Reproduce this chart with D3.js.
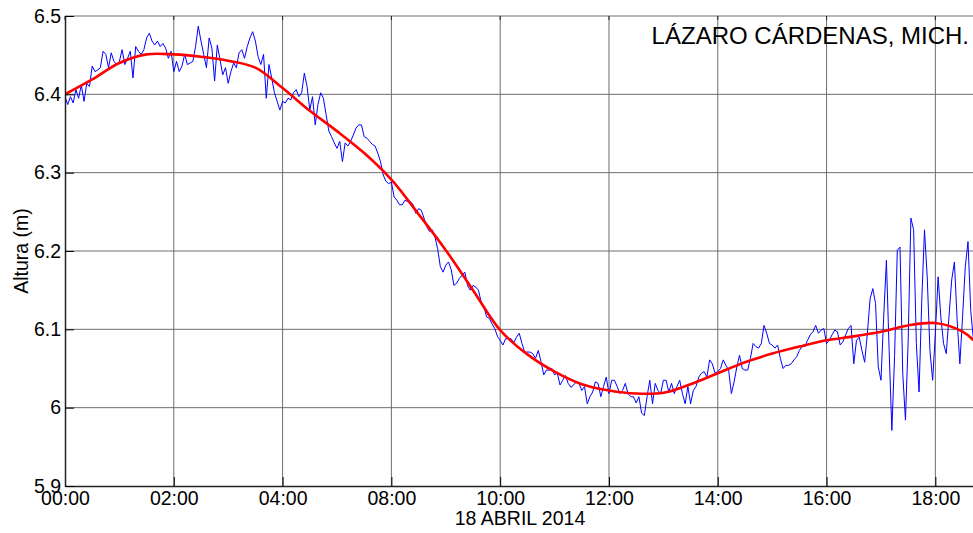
<!DOCTYPE html>
<html>
<head>
<meta charset="utf-8">
<script src="https://cdn.jsdelivr.net/npm/d3@7"></script>
<style>
  body { margin: 0; background: #fff; }
  svg text { font-family: "Liberation Sans", Arial, sans-serif; fill: #000; }
</style>
</head>
<body>
<div id="chart"></div>
<script>
// tick positions (minutes since 00:00) and the labels printed under them
const xTickMinutes = [0, 120, 240, 360, 480, 600, 720, 840, 960];
const xTickLabels = ["00:00", "02:00", "04:00", "08:00", "10:00", "12:00", "14:00", "16:00", "18:00"];
const yTicks = [5.9, 6.0, 6.1, 6.2, 6.3, 6.4, 6.5];
const yTickLabels = ["5.9", "6", "6.1", "6.2", "6.3", "6.4", "6.5"];

// observed sea level, one reading every 3 minutes
const blueStepMin = 3;
const blueValues = [
  6.397, 6.387, 6.397, 6.389, 6.406, 6.395, 6.412, 6.391, 6.414, 6.410,
  6.436, 6.429, 6.431, 6.434, 6.455, 6.451, 6.434, 6.453, 6.442, 6.438,
  6.442, 6.457, 6.438, 6.446, 6.455, 6.421, 6.461, 6.455, 6.451, 6.457,
  6.472, 6.478, 6.468, 6.463, 6.468, 6.461, 6.465, 6.459, 6.446, 6.455,
  6.429, 6.442, 6.429, 6.436, 6.451, 6.438, 6.440, 6.442, 6.461, 6.487,
  6.468, 6.451, 6.434, 6.472, 6.459, 6.417, 6.463, 6.444, 6.425, 6.434,
  6.414, 6.429, 6.440, 6.434, 6.453, 6.457, 6.446, 6.461, 6.472, 6.480,
  6.468, 6.448, 6.438, 6.451, 6.395, 6.438, 6.421, 6.402, 6.391, 6.380,
  6.391, 6.389, 6.395, 6.393, 6.402, 6.406, 6.397, 6.402, 6.427, 6.410,
  6.380, 6.397, 6.361, 6.387, 6.402, 6.395, 6.374, 6.353, 6.346, 6.338,
  6.331, 6.340, 6.314, 6.338, 6.334, 6.340, 6.348, 6.357, 6.361, 6.361,
  6.346, 6.344, 6.340, 6.336, 6.334, 6.325, 6.314, 6.297, 6.289, 6.286,
  6.288, 6.269, 6.265, 6.259, 6.259, 6.265, 6.263, 6.263, 6.259, 6.248,
  6.254, 6.252, 6.242, 6.231, 6.225, 6.227, 6.218, 6.203, 6.180, 6.173,
  6.182, 6.186, 6.176, 6.156, 6.159, 6.165, 6.169, 6.173, 6.156, 6.150,
  6.156, 6.154, 6.150, 6.135, 6.129, 6.116, 6.114, 6.107, 6.101, 6.091,
  6.086, 6.080, 6.088, 6.088, 6.088, 6.083, 6.090, 6.095, 6.082, 6.071,
  6.071, 6.071, 6.069, 6.063, 6.073, 6.059, 6.042, 6.048, 6.048, 6.050,
  6.042, 6.044, 6.029, 6.035, 6.041, 6.031, 6.026, 6.029, 6.033, 6.031,
  6.022, 6.027, 6.005, 6.014, 6.020, 6.033, 6.031, 6.014, 6.027, 6.039,
  6.018, 6.035, 6.035, 6.027, 6.018, 6.022, 6.031, 6.018, 6.014, 6.014,
  6.006, 6.014, 5.993, 5.990, 6.014, 6.035, 6.005, 6.031, 6.022, 6.018,
  6.035, 6.035, 6.020, 6.031, 6.018, 6.027, 6.035, 6.018, 6.005, 6.027,
  6.005, 6.022, 6.027, 6.039, 6.044, 6.046, 6.039, 6.061, 6.056, 6.044,
  6.046, 6.050, 6.061, 6.054, 6.048, 6.018, 6.033, 6.052, 6.067, 6.050,
  6.048, 6.048, 6.063, 6.082, 6.078, 6.076, 6.082, 6.105, 6.095, 6.082,
  6.080, 6.076, 6.080, 6.063, 6.050, 6.054, 6.054, 6.056, 6.061, 6.065,
  6.073, 6.078, 6.078, 6.086, 6.093, 6.097, 6.105, 6.095, 6.099, 6.101,
  6.082, 6.086, 6.093, 6.099, 6.097, 6.080, 6.084, 6.093, 6.101, 6.105,
  6.056, 6.086, 6.090, 6.073, 6.058, 6.095, 6.139, 6.152, 6.133, 6.052,
  6.035, 6.116, 6.188, 6.073, 5.971, 6.065, 6.201, 6.205, 6.044, 5.984,
  6.086, 6.242, 6.227, 6.082, 6.020, 6.137, 6.227, 6.167, 6.073, 6.035,
  6.095, 6.167, 6.116, 6.082, 6.069, 6.116, 6.163, 6.186, 6.112, 6.056,
  6.116, 6.180, 6.212, 6.124, 6.086
];

// smoothed tide (red), read every half hour
const redHours = [0, 0.5, 1, 1.5, 2, 2.5, 3, 3.5, 4, 4.5, 5, 5.5, 6, 6.5, 7, 7.5, 8, 8.5,
  9, 9.5, 10, 10.5, 11, 11.5, 12, 12.5, 13, 13.5, 14, 14.5, 15, 15.5, 16, 16.5, 16.7];
const redValues = [6.400, 6.419, 6.440, 6.451, 6.451, 6.448, 6.443, 6.434, 6.408, 6.379,
  6.353, 6.325, 6.291, 6.247, 6.201, 6.150, 6.099, 6.068, 6.046, 6.030, 6.022, 6.018,
  6.019, 6.030, 6.044, 6.058, 6.069, 6.078, 6.086, 6.091, 6.097, 6.105, 6.108, 6.097, 6.086];

const W = 973, H = 533;
const mLeft = 65, mRight = 973, mTop = 16, mBottom = 486;

const svg = d3.select("#chart").append("svg")
  .attr("width", W).attr("height", H);

const x = d3.scaleLinear().domain([0, 1001.5]).range([mLeft, mRight]);
const y = d3.scaleLinear().domain([5.9, 6.5]).range([mBottom, mTop]);

svg.append("defs").append("clipPath").attr("id", "plotclip")
  .append("rect").attr("x", mLeft).attr("y", mTop).attr("width", mRight - mLeft).attr("height", mBottom - mTop);

// grid
const grid = svg.append("g").attr("stroke", "#6e6e6e").attr("stroke-width", 1);
grid.selectAll(".vg").data(xTickMinutes.slice(1)).enter().append("line")
  .attr("x1", d => x(d)).attr("x2", d => x(d)).attr("y1", mTop).attr("y2", mBottom);
grid.selectAll(".hg").data(yTicks.slice(1, -1)).enter().append("line")
  .attr("x1", mLeft).attr("x2", mRight).attr("y1", d => y(d)).attr("y2", d => y(d));
// top border
grid.append("line").attr("x1", mLeft).attr("x2", mRight).attr("y1", mTop).attr("y2", mTop);

// series
const plot = svg.append("g").attr("clip-path", "url(#plotclip)");
plot.append("path")
  .datum(blueValues)
  .attr("fill", "none").attr("stroke", "#0000ff").attr("stroke-width", 1)
  .attr("d", d3.line().x((d, i) => x(i * blueStepMin)).y(d => y(d)));

plot.append("path")
  .datum(redHours.map((h, i) => [h * 60, redValues[i]]))
  .attr("fill", "none").attr("stroke", "#ff0000").attr("stroke-width", 2.6)
  .attr("d", d3.line().curve(d3.curveCatmullRom).x(d => x(d[0])).y(d => y(d[1])));

// axes
const xAxis = d3.axisBottom(x).tickValues(xTickMinutes)
  .tickFormat((d, i) => xTickLabels[i]).tickSizeInner(-9).tickSizeOuter(0).tickPadding(5);
const gx = svg.append("g").attr("transform", "translate(0," + mBottom + ")").call(xAxis);
gx.selectAll("text").style("font-size", "19.5px");
gx.select(".domain").attr("stroke", "#222").attr("stroke-width", 1.5);

// top ticks
svg.append("g").selectAll("line").data(xTickMinutes).enter().append("line")
  .attr("x1", d => x(d)).attr("x2", d => x(d)).attr("y1", mTop).attr("y2", mTop + 4)
  .attr("stroke", "#222");

const yAxis = d3.axisLeft(y).tickValues(yTicks)
  .tickFormat((d, i) => yTickLabels[i]).tickSizeInner(-9).tickSizeOuter(0).tickPadding(4);
const gy = svg.append("g").attr("transform", "translate(" + mLeft + ",0)").call(yAxis);
gy.selectAll("text").style("font-size", "19.5px");
gy.select(".domain").attr("stroke", "#222").attr("stroke-width", 1.5);

// labels
svg.append("text")
  .attr("transform", "translate(28,251) rotate(-90)")
  .attr("text-anchor", "middle").style("font-size", "19.5px")
  .text("Altura (m)");

svg.append("text")
  .attr("x", 520).attr("y", 525).attr("text-anchor", "middle").style("font-size", "19.5px")
  .text("18 ABRIL 2014");

svg.append("text")
  .attr("x", 969).attr("y", 44).attr("text-anchor", "end").style("font-size", "24px")
  .text("LÁZARO CÁRDENAS, MICH.");
</script>
</body>
</html>
